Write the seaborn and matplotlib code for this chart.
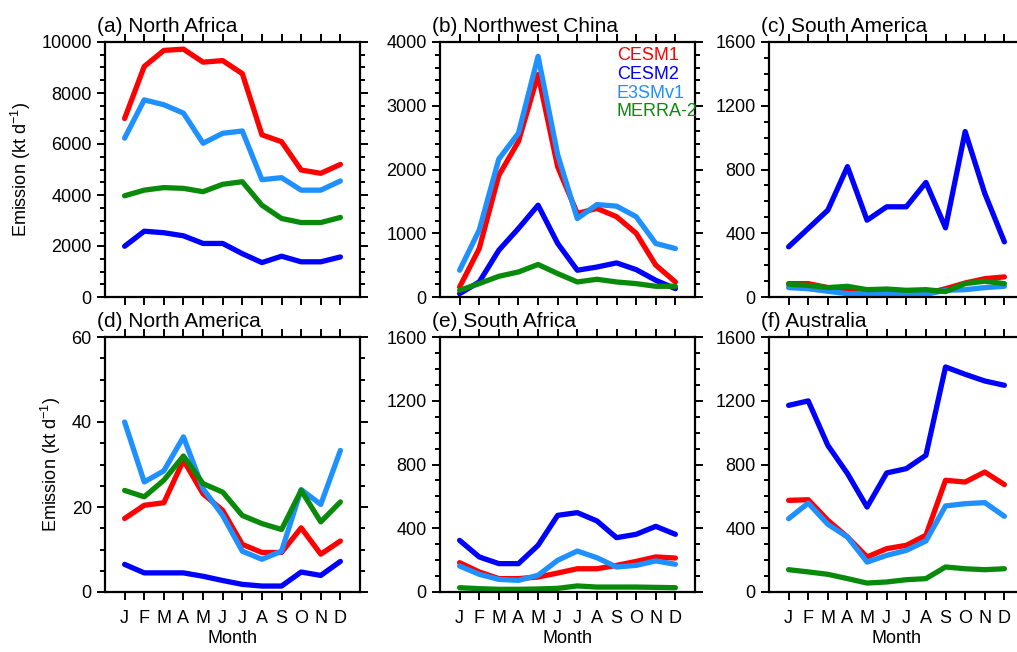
import numpy as np
import pandas as pd
import matplotlib
matplotlib.use('Agg')
import matplotlib.pyplot as plt
import seaborn as sns
from matplotlib.ticker import MultipleLocator

months = ['J', 'F', 'M', 'A', 'M', 'J', 'J', 'A', 'S', 'O', 'N', 'D']
models = ['CESM1', 'CESM2', 'E3SMv1', 'MERRA-2']
colors = ['#ff0000', '#0000ff', '#1e90ff', '#0a8a0a']

# (a) North Africa
na_cesm1 = [7000, 9040, 9670, 9720, 9210, 9270, 8760, 6360, 6090, 4980, 4850, 5200]
na_cesm2 = [1990, 2580, 2520, 2400, 2100, 2100, 1700, 1350, 1600, 1380, 1380, 1570]
na_e3sm = [6230, 7730, 7540, 7210, 6030, 6420, 6510, 4600, 4680, 4190, 4190, 4550]
na_merra = [3970, 4190, 4290, 4260, 4130, 4420, 4520, 3600, 3080, 2920, 2920, 3120]

# (b) Northwest China
nwc_cesm1 = [157, 760, 1910, 2440, 3490, 2040, 1310, 1390, 1260, 1000, 500, 236]
nwc_cesm2 = [52, 236, 734, 1075, 1440, 840, 420, 470, 535, 430, 262, 131]
nwc_e3sm = [420, 1050, 2165, 2570, 3775, 2230, 1230, 1450, 1425, 1260, 840, 760]
nwc_merra = [105, 210, 325, 393, 510, 367, 236, 278, 236, 210, 168, 168]

# (c) South America
sam_cesm1 = [84, 84, 59, 42, 31, 25, 10, 21, 52, 88, 115, 126]
sam_cesm2 = [315, 430, 545, 818, 482, 566, 566, 719, 434, 1038, 650, 346]
sam_e3sm = [59, 52, 36, 21, 21, 21, 21, 17, 42, 46, 59, 67]
sam_merra = [80, 73, 59, 67, 46, 50, 42, 46, 34, 84, 99, 84]

# (d) North America
nam_cesm1 = [17.3, 20.4, 21.0, 31.0, 23.1, 19.2, 11.2, 9.3, 9.3, 15.1, 8.9, 12.0]
nam_cesm2 = [6.5, 4.5, 4.5, 4.5, 3.7, 2.7, 1.8, 1.4, 1.4, 4.7, 3.9, 7.2]
nam_e3sm = [40.0, 25.9, 28.5, 36.5, 24.3, 18.0, 9.6, 7.7, 9.6, 24.1, 20.6, 33.3]
nam_merra = [23.9, 22.4, 26.3, 32.0, 25.5, 23.5, 18.0, 16.1, 14.7, 23.9, 16.5, 21.2]

# (e) South Africa
saf_cesm1 = [184, 126, 84, 84, 94, 119, 146, 146, 167, 192, 220, 213]
saf_cesm2 = [324, 220, 178, 178, 293, 481, 498, 446, 341, 362, 412, 362]
saf_e3sm = [163, 111, 79, 73, 105, 199, 257, 215, 157, 167, 195, 174]
saf_merra = [27, 21, 17, 17, 19, 23, 38, 31, 31, 31, 29, 27]

# (f) Australia
aus_cesm1 = [575, 579, 450, 345, 220, 272, 293, 356, 701, 690, 753, 674]
aus_cesm2 = [1171, 1199, 920, 743, 533, 747, 774, 858, 1412, 1366, 1324, 1297]
aus_e3sm = [460, 558, 425, 345, 188, 230, 261, 320, 540, 554, 561, 475]
aus_merra = [140, 126, 111, 84, 56, 63, 77, 84, 157, 146, 140, 146]

panels = [
    ('(a) North Africa', [na_cesm1, na_cesm2, na_e3sm, na_merra], 10000, 2000, 500),
    ('(b) Northwest China', [nwc_cesm1, nwc_cesm2, nwc_e3sm, nwc_merra], 4000, 1000, 200),
    ('(c) South America', [sam_cesm1, sam_cesm2, sam_e3sm, sam_merra], 1600, 400, 100),
    ('(d) North America', [nam_cesm1, nam_cesm2, nam_e3sm, nam_merra], 60, 20, 5),
    ('(e) South Africa', [saf_cesm1, saf_cesm2, saf_e3sm, saf_merra], 1600, 400, 100),
    ('(f) Australia', [aus_cesm1, aus_cesm2, aus_e3sm, aus_merra], 1600, 400, 100),
]

sns.set_style('ticks')
plt.rcParams['font.family'] = ['Liberation Sans', 'DejaVu Sans']
plt.rcParams['mathtext.default'] = 'regular'
plt.rcParams['text.color'] = 'black'
plt.rcParams['axes.labelcolor'] = 'black'

fig = plt.figure(figsize=(10.17, 6.52), dpi=100)
lefts = [105, 440, 769]
tops = [42, 337]
W, H = 1017, 652

for i, (title, series, ymax, major, minor) in enumerate(panels):
    row, col = divmod(i, 3)
    ax = fig.add_axes([lefts[col] / W, (H - tops[row] - 255) / H, 255 / W, 255 / H])
    df = pd.DataFrame({
        'month': np.tile(np.arange(1, 13), len(models)),
        'value': np.concatenate(series),
        'model': np.repeat(models, 12),
    })
    sns.lineplot(data=df, x='month', y='value', hue='model', hue_order=models,
                 palette=colors, linewidth=3.8, ax=ax, legend=False)
    ax.set_xlim(0, 13)
    ax.set_ylim(0, ymax)
    ax.set_xticks(np.arange(1, 13))
    ax.yaxis.set_major_locator(MultipleLocator(major))
    ax.yaxis.set_minor_locator(MultipleLocator(minor))
    ax.tick_params(which='both', direction='out', top=True, right=True,
                   width=1.4, labelsize=13, color='black', labelcolor='black')
    ax.tick_params(which='major', length=6)
    ax.tick_params(which='minor', length=3.5)
    ax.tick_params(axis='x', which='minor', top=False, bottom=False)
    for s in ax.spines.values():
        s.set_linewidth(1.6)
        s.set_color('black')
    if row == 1:
        ax.set_xticklabels(months)
        ax.set_xlabel('Month', fontsize=13, labelpad=2)
        ax.tick_params(axis='x', pad=7)
    else:
        ax.set_xticklabels([])
        ax.set_xlabel('')
    if col == 0:
        ax.set_ylabel('Emission (kt d$^{-1}$)', fontsize=13, labelpad=6)
    else:
        ax.set_ylabel('')
    ax.text(-0.03, 1.025, title, transform=ax.transAxes, fontsize=15,
            ha='left', va='bottom')
    if i == 1:
        for k, (name, c) in enumerate(zip(models, colors)):
            ax.text(0.694, 0.949 - k * 0.0745, name, color=c, fontsize=13,
                    transform=ax.transAxes, ha='left', va='center')

fig.savefig('out.png', dpi=100)
